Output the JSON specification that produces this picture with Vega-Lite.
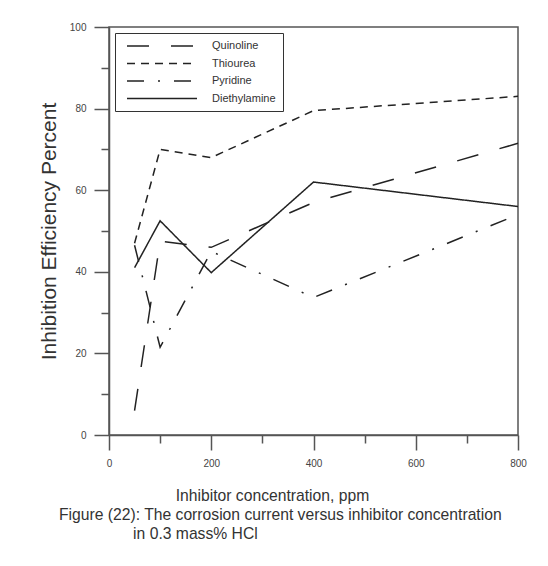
{
  "$schema": "https://vega.github.io/schema/vega-lite/v6.json",
  "width": 409,
  "height": 408,
  "autosize": {"type": "none"},
  "padding": {"left": 109, "top": 27, "right": 30, "bottom": 131},
  "background": "white",
  "data": {
    "values": [
      {"inhibitor": "Quinoline", "ppm": 50, "ie": 6},
      {"inhibitor": "Quinoline", "ppm": 100, "ie": 47.5},
      {"inhibitor": "Quinoline", "ppm": 200, "ie": 46},
      {"inhibitor": "Quinoline", "ppm": 400, "ie": 57},
      {"inhibitor": "Quinoline", "ppm": 800, "ie": 71.5},
      {"inhibitor": "Thiourea", "ppm": 50, "ie": 47},
      {"inhibitor": "Thiourea", "ppm": 100, "ie": 70},
      {"inhibitor": "Thiourea", "ppm": 200, "ie": 68},
      {"inhibitor": "Thiourea", "ppm": 400, "ie": 79.5},
      {"inhibitor": "Thiourea", "ppm": 800, "ie": 83},
      {"inhibitor": "Pyridine", "ppm": 50, "ie": 46.5},
      {"inhibitor": "Pyridine", "ppm": 100, "ie": 21.5},
      {"inhibitor": "Pyridine", "ppm": 200, "ie": 45},
      {"inhibitor": "Pyridine", "ppm": 400, "ie": 33.7},
      {"inhibitor": "Pyridine", "ppm": 800, "ie": 54},
      {"inhibitor": "Diethylamine", "ppm": 50, "ie": 41},
      {"inhibitor": "Diethylamine", "ppm": 100, "ie": 52.5},
      {"inhibitor": "Diethylamine", "ppm": 200, "ie": 39.8},
      {"inhibitor": "Diethylamine", "ppm": 400, "ie": 62},
      {"inhibitor": "Diethylamine", "ppm": 800, "ie": 56}
    ]
  },
  "mark": {"type": "line", "strokeWidth": 1.5, "color": "#222"},
  "encoding": {
    "x": {
      "field": "ppm",
      "type": "quantitative",
      "scale": {"domain": [0, 800], "nice": false},
      "axis": {
        "title": "Inhibitor concentration, ppm",
        "values": [0, 100, 200, 300, 400, 500, 600, 700, 800],
        "tickSize": {"condition": {"test": "datum.value % 200 === 0", "value": 15}, "value": 8},
        "labelExpr": "datum.value % 200 === 0 ? datum.label : ''",
        "labelPadding": 8,
        "titleX": 163,
        "titleY": 65,
        "titleBaseline": "alphabetic",
        "titleAlign": "center",
        "titleFontSize": 15.7
      }
    },
    "y": {
      "field": "ie",
      "type": "quantitative",
      "scale": {"domain": [0, 100], "nice": false},
      "axis": {
        "title": "Inhibition Efficiency Percent",
        "values": [0, 10, 20, 30, 40, 50, 60, 70, 80, 90, 100],
        "tickSize": {"condition": {"test": "datum.value % 20 === 0", "value": 15}, "value": 8},
        "labelExpr": "datum.value % 20 === 0 ? datum.label : ''",
        "labelPadding": 8,
        "titleFontSize": 21,
        "titlePadding": 10
      }
    },
    "strokeDash": {
      "field": "inhibitor",
      "type": "nominal",
      "scale": {
        "domain": ["Quinoline", "Thiourea", "Pyridine", "Diethylamine"],
        "range": [[22, 22], [8, 6], [17, 14, 2, 14], [1, 0]]
      },
      "legend": {
        "title": null,
        "orient": "top-left",
        "offset": 6,
        "strokeColor": "#333",
        "fillColor": "white",
        "padding": 7,
        "symbolType": "M-7,0H7",
        "symbolSize": 100,
        "symbolStrokeWidth": 1.5,
        "symbolStrokeColor": "#222",
        "symbolOffset": 34,
        "labelOffset": 44,
        "labelFontSize": 11,
        "labelColor": "#333",
        "rowPadding": 6.5
      }
    }
  },
  "title": {
    "text": ["Figure (22): The corrosion current versus inhibitor concentration", "\u200b\u00a0\u00a0\u00a0\u00a0\u00a0\u00a0\u00a0\u00a0\u00a0\u00a0\u00a0\u00a0\u00a0\u00a0\u00a0\u00a0\u00a0in 0.3 mass% HCl"],
    "orient": "bottom",
    "anchor": "start",
    "align": "left",
    "frame": "group",
    "dx": -50,
    "offset": 5,
    "fontSize": 15.7,
    "fontWeight": "normal",
    "color": "#333",
    "lineHeight": 19
  },
  "config": {
    "font": "Liberation Sans",
    "view": {"stroke": "#555", "strokeWidth": 1.5},
    "axis": {
      "grid": false,
      "domainColor": "#555",
      "domainWidth": 1.5,
      "tickColor": "#555",
      "tickWidth": 1.5,
      "labelFontSize": 10,
      "labelColor": "#444",
      "labelFlush": false,
      "labelOverlap": false,
      "titleFontWeight": "normal",
      "titleColor": "#333"
    }
  }
}
